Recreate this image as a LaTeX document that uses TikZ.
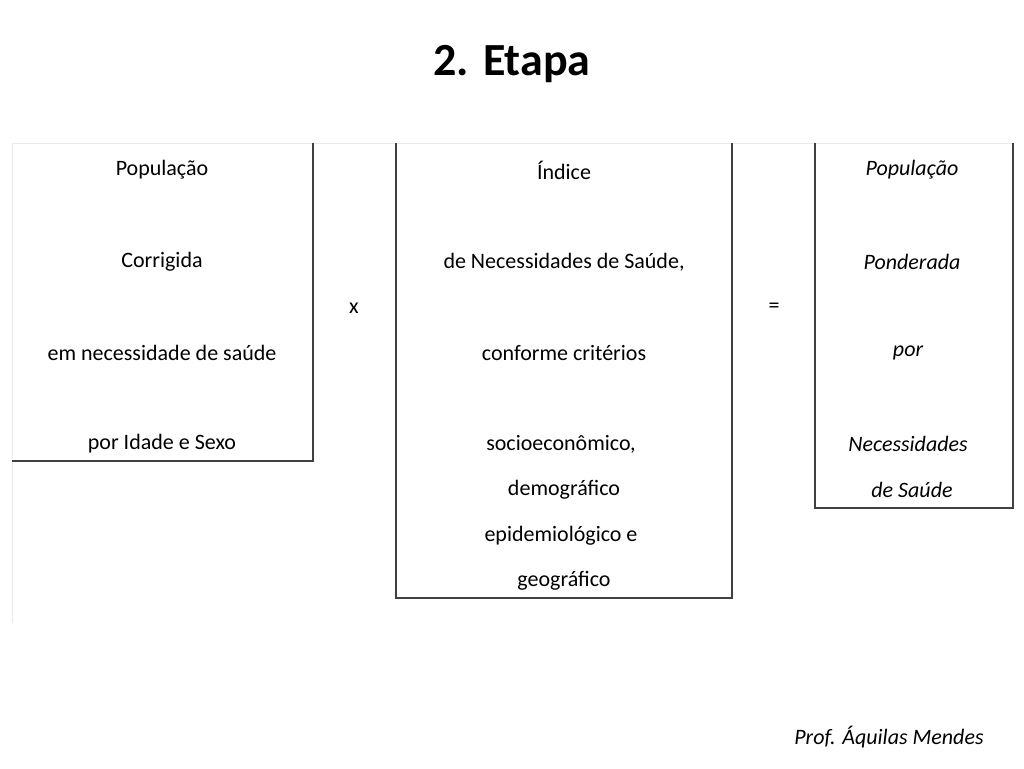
\documentclass[tikz,border=0pt]{standalone}
\usepackage{fontspec}
\setmainfont{Carlito}
\begin{document}
\begin{tikzpicture}[x=1pt,y=-1pt,
  txt/.style={font=\fontsize{22}{26}\selectfont,anchor=center,inner sep=0pt},
  itx/.style={txt,font=\fontsize{22}{26}\selectfont\itshape},
  bx/.style={draw=black!75,line width=1.2pt},
  faint/.style={draw=black!8,line width=0.8pt}]
\useasboundingbox (0,0) rectangle (1024,768);
\node[font=\fontsize{46}{52}\selectfont\bfseries] (title) at (512,64) {2. Etapa};
\draw[faint] (12,143) -- (1013,143);
\draw[faint] (12,143) -- (12,623);
\draw[bx] (12,461) -- (313,461) -- (313,143);
\draw[bx] (396,143) -- (396,598) -- (732,598) -- (732,143);
\draw[bx] (815,143) -- (815,508) -- (1013,508) -- (1013,143);
\node[txt] (a1) at (162,170) {População};
\node[txt] (a2) at (162,262) {Corrigida};
\node[txt] (a3) at (162,353) {em necessidade de saúde};
\node[txt] (a4) at (162,444) {por Idade e Sexo};
\node[txt] (x) at (354,308) {x};
\node[txt] (b1) at (564,170) {Índice};
\node[txt] (b2) at (564,262) {de Necessidades de Saúde,};
\node[txt] (b3) at (564,353) {conforme critérios};
\node[txt] (b4) at (561,444) {socioeconômico,};
\node[txt] (b5) at (564,490) {demográfico};
\node[txt] (b6) at (561,536) {epidemiológico e};
\node[txt] (b7) at (564,581) {geográfico};
\node[txt] (eq) at (774,308) {=};
\node[itx] (c1) at (912,170) {População};
\node[itx] (c2) at (912,262) {Ponderada};
\node[itx] (c3) at (908,353) {por};
\node[itx] (c4) at (908,444) {Necessidades};
\node[itx] (c5) at (912,490) {de Saúde};
\node[itx,font=\fontsize{22}{26}\selectfont\itshape] (f) at (889,737) {Prof. Áquilas Mendes};
\end{tikzpicture}
\end{document}
